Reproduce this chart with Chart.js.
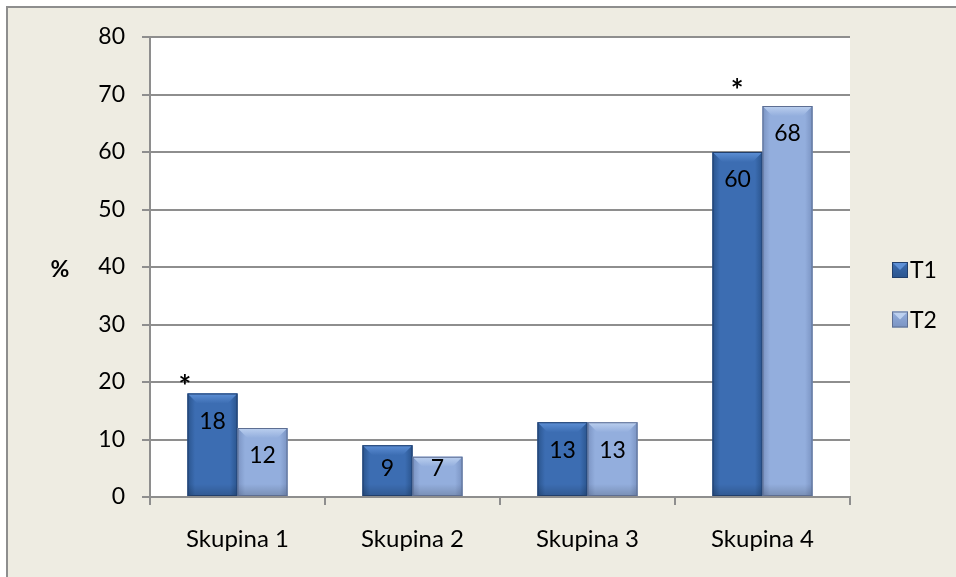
<!DOCTYPE html>
<html>
<head>
<meta charset="utf-8">
<script src="https://cdn.jsdelivr.net/npm/chart.js@4"></script>
<style>
  html, body { margin: 0; padding: 0; background: #ffffff; }
  #wrap { position: relative; width: 956px; height: 577px; overflow: hidden; }
  #frame { position: absolute; left: 6px; top: 6px; width: 960px; height: 580px;
           background: #EEECE2; border-left: 2px solid #8E8E8E; border-top: 2px solid #8E8E8E; }
  #c { position: absolute; left: 0; top: 0; }
</style>
</head>
<body>
<div id="wrap">
  <div id="frame"></div>
  <canvas id="c" width="956" height="577"></canvas>
</div>
<script>
const categories = ["Skupina 1", "Skupina 2", "Skupina 3", "Skupina 4"];
const seriesNames = ["T1", "T2"];
const t1Values = [18, 9, 13, 60];
const t2Values = [12, 7, 13, 68];
const yTicks = [0, 10, 20, 30, 40, 50, 60, 70, 80];
const yTitle = "%";
// significance markers: position along category axis (fractional index) and value
const starCatPos = [-0.3, 2.855];
const starValues = [20.4, 72];

const FONT = "Lato, 'Open Sans', sans-serif";
const GRID = "#8E8E8E";

const styles = [
  { edge: "#2A548D", mid: "#3C6DB2", top: "#5E90D6", line: "#213F6C" },
  { edge: "#7A93C2", mid: "#93AEDD", top: "#BCD0EF", line: "#5D6E92" }
];

const barDecor = {
  id: "barDecor",
  beforeDraw(chart) {
    const a = chart.chartArea, ctx = chart.ctx;
    ctx.save();
    ctx.fillStyle = "#ffffff";
    ctx.fillRect(a.left, a.top, a.right - a.left, a.bottom - a.top);
    ctx.restore();
  },
  afterDatasetsDraw(chart) {
    const ctx = chart.ctx;
    chart.data.datasets.forEach((ds, di) => {
      const st = styles[di];
      const meta = chart.getDatasetMeta(di);
      meta.data.forEach((el, idx) => {
        const p = el.getProps(["x", "y", "base", "width"], true);
        const l = p.x - p.width / 2, r = p.x + p.width / 2, t = p.y, b = p.base;
        const g = ctx.createLinearGradient(l, 0, r, 0);
        g.addColorStop(0, st.edge);
        g.addColorStop(0.15, st.mid);
        g.addColorStop(0.85, st.mid);
        g.addColorStop(1, st.edge);
        ctx.save();
        ctx.fillStyle = g;
        ctx.fillRect(l, t, r - l, b - t);
        const gb = ctx.createLinearGradient(0, b - 12, 0, b);
        gb.addColorStop(0, "rgba(0,0,0,0)");
        gb.addColorStop(1, "rgba(0,0,0,0.18)");
        ctx.fillStyle = gb;
        ctx.fillRect(l, b - 12, r - l, 12);
        const d = Math.min(10, (b - t) / 2);
        const gt = ctx.createLinearGradient(0, t, 0, t + d);
        gt.addColorStop(0, st.top);
        gt.addColorStop(1, st.mid);
        ctx.fillStyle = gt;
        ctx.beginPath();
        ctx.moveTo(l, t); ctx.lineTo(r, t); ctx.lineTo(r - d, t + d); ctx.lineTo(l + d, t + d);
        ctx.closePath(); ctx.fill();
        ctx.strokeStyle = st.line;
        ctx.lineWidth = 1;
        ctx.strokeRect(l + 0.5, t + 0.5, r - l - 1, b - t - 1);
        ctx.restore();
        const v = ds.data[idx];
        ctx.save();
        ctx.font = "23px " + FONT;
        ctx.fillStyle = "#000";
        ctx.textAlign = "center";
        ctx.textBaseline = "middle";
        const ly = Math.min(t + 28, b - 27);
        ctx.fillText(String(v), p.x, ly);
        ctx.restore();
      });
    });
    const xs = chart.scales.x, ys = chart.scales.y;
    ctx.save();
    ctx.font = "bold 30px " + FONT;
    ctx.fillStyle = "#000";
    ctx.textAlign = "center";
    ctx.textBaseline = "alphabetic";
    const m = ctx.measureText("*");
    const off = (m.actualBoundingBoxAscent - m.actualBoundingBoxDescent) / 2;
    starCatPos.forEach((c, i) => {
      ctx.fillText("*", xs.getPixelForValue(c), ys.getPixelForValue(starValues[i]) + off);
    });
    ctx.restore();
  },
  afterDraw(chart) {
    const ctx = chart.ctx;
    const ys = chart.scales.y;
    ctx.save();
    ctx.font = "bold 23px " + FONT;
    ctx.fillStyle = "#000";
    ctx.textAlign = "center";
    ctx.textBaseline = "middle";
    ctx.fillText(yTitle, 60, (ys.top + ys.bottom) / 2 + 3);
    ctx.font = "23px " + FONT;
    ctx.textAlign = "left";
    chart.data.datasets.forEach((ds, i) => {
      const st = styles[i];
      const cy = 270 + i * 49.5, bx = 892, s = 16, by = cy - s / 2;
      const g = ctx.createLinearGradient(0, by, 0, by + s);
      g.addColorStop(0, st.mid); g.addColorStop(1, st.edge);
      ctx.fillStyle = g;
      ctx.fillRect(bx, by, s, s);
      ctx.fillStyle = st.top;
      ctx.beginPath();
      ctx.moveTo(bx, by); ctx.lineTo(bx + s, by); ctx.lineTo(bx + s / 2, by + s / 2);
      ctx.closePath(); ctx.fill();
      ctx.strokeStyle = st.line; ctx.lineWidth = 1;
      ctx.strokeRect(bx + 0.5, by + 0.5, s - 1, s - 1);
      ctx.fillStyle = "#000";
      ctx.fillText(ds.label, bx + s + 2, cy + 1);
    });
    ctx.restore();
  }
};

new Chart(document.getElementById("c"), {
  type: "bar",
  data: {
    labels: categories,
    datasets: [
      { label: seriesNames[0], data: t1Values, backgroundColor: styles[0].mid },
      { label: seriesNames[1], data: t2Values, backgroundColor: styles[1].mid }
    ]
  },
  options: {
    responsive: false,
    animation: false,
    devicePixelRatio: 1,
    categoryPercentage: 100 / 175,
    barPercentage: 1,
    layout: { padding: { left: 0, right: 106, top: 37, bottom: 0 } },
    plugins: { legend: { display: false }, tooltip: { enabled: false } },
    scales: {
      x: {
        grid: { drawOnChartArea: false, drawTicks: true, tickLength: 8, color: GRID, lineWidth: 2, offset: true },
        border: { color: GRID, width: 2 },
        ticks: { color: "#000", font: { family: FONT, size: 24 }, padding: 20, maxRotation: 0 },
        afterFit(s) { s.height = 80; }
      },
      y: {
        min: 0, max: 80,
        afterBuildTicks(s) { s.ticks = yTicks.map(v => ({ value: v })); },
        grid: { color: GRID, tickLength: 8, lineWidth: 2 },
        border: { color: GRID, width: 2 },
        ticks: { color: "#000", font: { family: FONT, size: 23 }, padding: 17 },
        afterFit(s) { s.width = 150; }
      }
    }
  },
  plugins: [barDecor]
});
</script>
</body>
</html>
